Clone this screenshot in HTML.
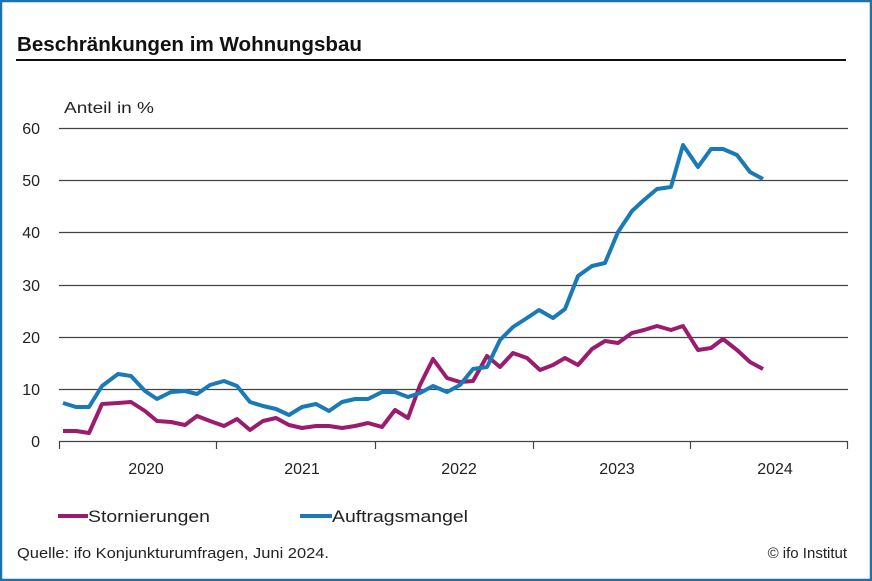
<!DOCTYPE html>
<html><head><meta charset="utf-8"><style>
html,body{margin:0;padding:0;background:#fff}
svg{display:block;font-family:"Liberation Sans",sans-serif}
</style></head><body>
<svg width="872" height="581" viewBox="0 0 872 581">
<rect x="1" y="1" width="870" height="579" fill="#fff" stroke="#1a72b0" stroke-width="2.5"/>
<text x="17" y="51" font-size="20" font-weight="bold" fill="#111" textLength="345" lengthAdjust="spacingAndGlyphs">Beschränkungen im Wohnungsbau</text>
<rect x="16" y="59" width="830" height="2" fill="#111"/>
<text x="64" y="113" font-size="16" fill="#222" textLength="90" lengthAdjust="spacingAndGlyphs">Anteil in %</text>
<g stroke="#444" stroke-width="1.2">
<line x1="59" y1="128.5" x2="848" y2="128.5"/><line x1="59" y1="180.5" x2="848" y2="180.5"/>
<line x1="59" y1="232.5" x2="848" y2="232.5"/><line x1="59" y1="285.5" x2="848" y2="285.5"/>
<line x1="59" y1="337.5" x2="848" y2="337.5"/><line x1="59" y1="389.5" x2="848" y2="389.5"/>
<line x1="59" y1="441.5" x2="848" y2="441.5"/>
<line x1="59.5" y1="441" x2="59.5" y2="449"/><line x1="216.5" y1="441" x2="216.5" y2="449"/>
<line x1="375.5" y1="441" x2="375.5" y2="449"/><line x1="533.5" y1="441" x2="533.5" y2="449"/>
<line x1="690.5" y1="441" x2="690.5" y2="449"/><line x1="847.5" y1="441" x2="847.5" y2="449"/>
</g>
<g font-size="16" fill="#222" text-anchor="end">
<text x="40" y="134">60</text><text x="40" y="186">50</text><text x="40" y="238">40</text>
<text x="40" y="291">30</text><text x="40" y="343">20</text><text x="40" y="395">10</text><text x="40" y="447">0</text>
</g>
<g font-size="16" fill="#222" text-anchor="middle">
<text x="146" y="474">2020</text><text x="302" y="474">2021</text><text x="459" y="474">2022</text>
<text x="617" y="474">2023</text><text x="775" y="474">2024</text>
</g>
<polyline fill="none" stroke="#9b1b6e" stroke-width="4" stroke-linejoin="round" points="63,431 76,431 89,433 102,404 118,403 131,402 145,411 157,421 171,422 185,425 197,416 210,421 224,426 237,419 250,430 263,421 276,418 289,425 302,428 316,426 329,426 342,428 355,426 368,423 382,427 395,410 408,418 420,385 433,359 447,378 460,382 473,381 487,356 500,367 513,353 527,358 540,370 553,365 565,358 578,365 592,349 605,341 618,343 632,333 644,330 657,326 671,330 683,326 698,350 711,348 723,339 737,350 750,362 763,369"/>
<polyline fill="none" stroke="#1a7ab8" stroke-width="4" stroke-linejoin="round" points="63,403 76,407 89,407 102,386 118,374 131,376 145,391 157,399 171,392 185,391 197,394 210,385 224,381 237,386 250,402 263,406 276,409 289,415 302,407 316,404 329,411 342,402 355,399 368,399 382,392 395,392 408,397 420,393 433,386 447,392 460,385 473,369 487,367 500,340 513,327 527,318 539,310 553,318 565,309 578,276 592,266 605,263 618,232 632,211 644,200 657,189 671,187 683,145 698,167 711,149 723,149 737,155 750,172 763,179"/>
<line x1="58" y1="516" x2="88" y2="516" stroke="#9b1b6e" stroke-width="4"/>
<text x="88" y="522" font-size="17" fill="#222" textLength="122" lengthAdjust="spacingAndGlyphs">Stornierungen</text>
<line x1="300" y1="516" x2="332" y2="516" stroke="#1a7ab8" stroke-width="4"/>
<text x="332" y="522" font-size="17" fill="#222" textLength="136" lengthAdjust="spacingAndGlyphs">Auftragsmangel</text>
<text x="17" y="558" font-size="15" fill="#222" textLength="312" lengthAdjust="spacingAndGlyphs">Quelle: ifo Konjunkturumfragen, Juni 2024.</text>
<text x="847" y="558" font-size="15" fill="#222" text-anchor="end">© ifo Institut</text>
</svg>
</body></html>
